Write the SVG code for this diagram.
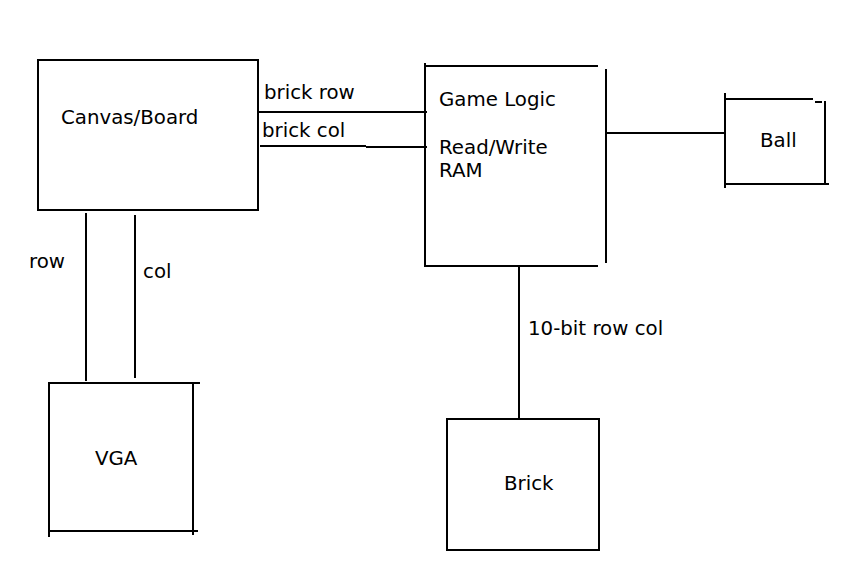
<svg xmlns="http://www.w3.org/2000/svg" width="854" height="575" viewBox="0 0 854 575">
<style>
.s{fill:none;stroke:#000;stroke-width:2;stroke-linecap:butt}
text{font-family:"DejaVu Sans",sans-serif;font-size:19.8px;fill:#000}
</style>
<rect width="854" height="575" fill="#fff"/>
<g id="canvas">
<rect class="s" x="38" y="60" width="220" height="150"/>
<text x="61" y="124">Canvas/Board</text>
</g>
<g id="gamelogic">
<path class="s" d="M425 63V267M424 66H598M606 69V263M424 266H598"/>
<text x="439" y="106">Game Logic</text>
<text x="439" y="154">Read/Write</text>
<text x="439" y="177">RAM</text>
</g>
<g id="ball">
<path class="s" d="M725 93V188M725 99H813M815 102H822M825 101V185M725 184H829"/>
<text x="760" y="147">Ball</text>
</g>
<g id="vga">
<path class="s" d="M49 382V537M50 383H200M193 383V535M48 531H198"/>
<text x="95" y="465">VGA</text>
</g>
<g id="brick">
<rect class="s" x="447" y="419" width="152" height="131"/>
<text x="504" y="490">Brick</text>
</g>
<g id="connectors">
<path class="s" d="M258 112H366M366 112H427M260 146H366M366 147H427M606 133H725M519 266V419M86 213V381M135 215V378"/>
<text x="264" y="99">brick row</text>
<text x="262" y="137">brick col</text>
<text x="29" y="268">row</text>
<text x="143" y="278">col</text>
<text x="528" y="335">10-bit row col</text>
</g>
</svg>
